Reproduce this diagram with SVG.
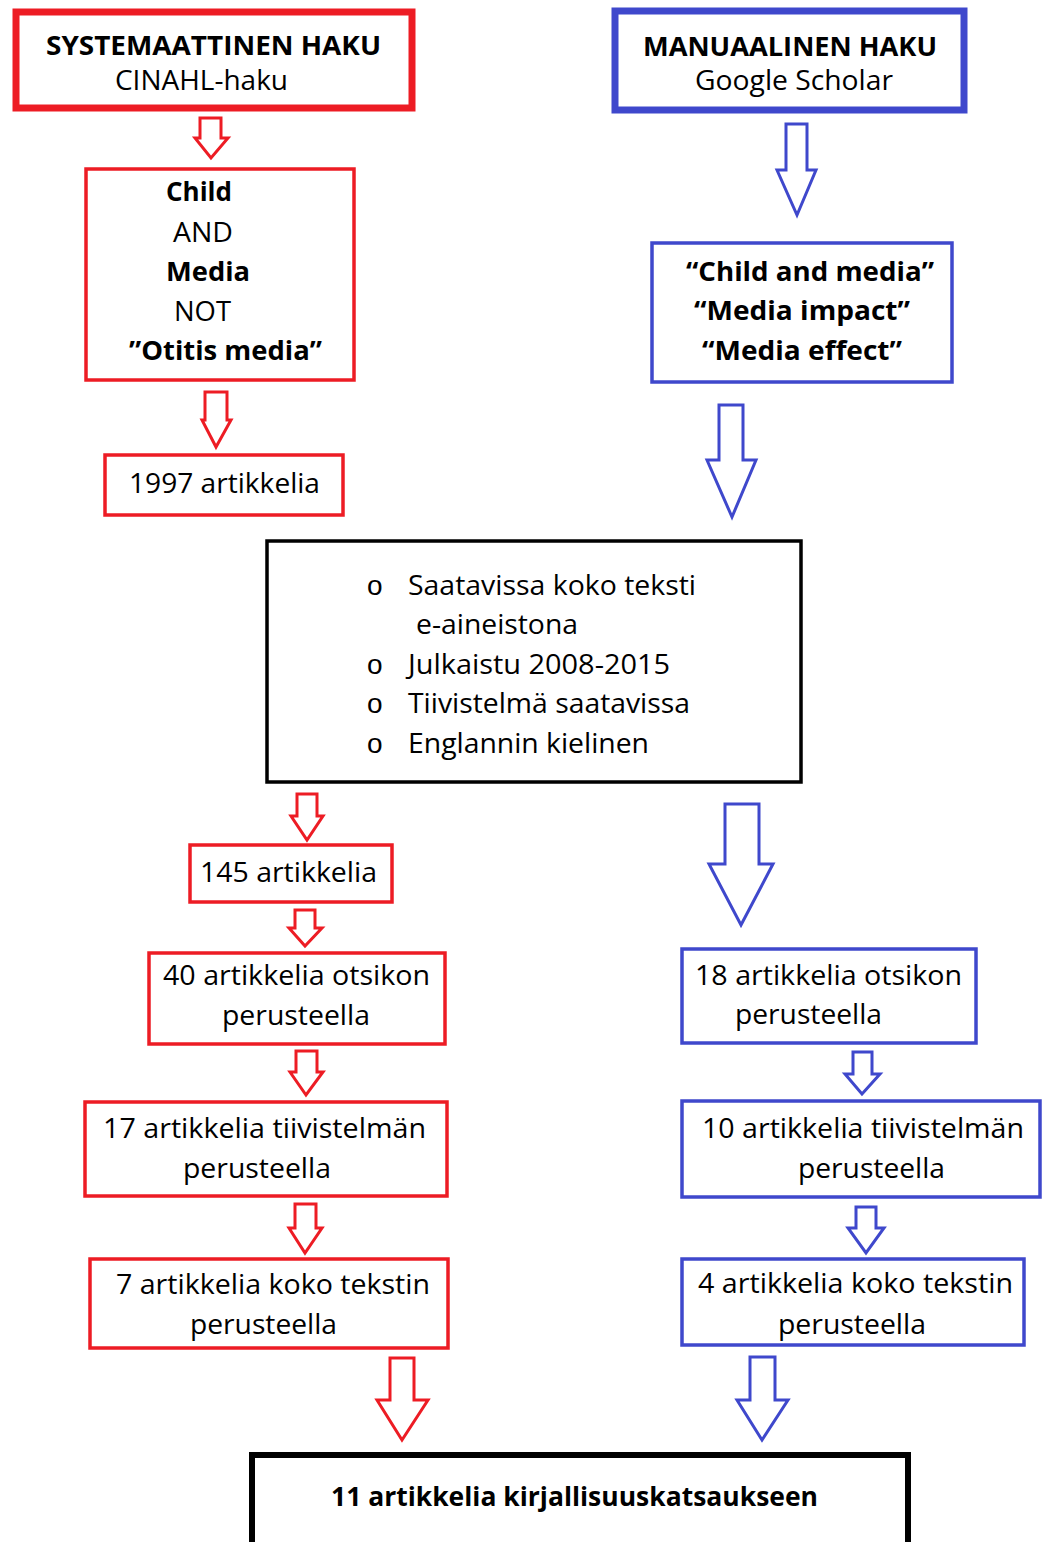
<svg xmlns="http://www.w3.org/2000/svg" width="1042" height="1542" viewBox="0 0 1042 1542">
<style>
.r{fill:#fff;stroke:#ed1c24;stroke-width:3.5}
.b{fill:#fff;stroke:#3f48cc;stroke-width:3.5}
.k{fill:#fff;stroke:#000;stroke-width:3.5}
.ra{fill:#fff;stroke:#ed1c24;stroke-width:3;stroke-linejoin:miter}
.ba{fill:#fff;stroke:#3f48cc;stroke-width:3;stroke-linejoin:miter}
text{font-family:"Open Sans","Liberation Sans",sans-serif;font-size:27px;fill:#000}
.bd{font-weight:bold}
text.bu{font-family:"Liberation Sans",sans-serif;font-size:28px}
</style>
<rect width="1042" height="1542" fill="#fff"/>
<g id="connectors">
<polygon class="ra" points="200,118 221,118 221,138 228,138 211,158 195,138 200,138"/>
<polygon class="ra" points="205,392 227,392 227,420 231,420 216,447 202,420 205,420"/>
<polygon class="ra" points="297,794 317,794 317,816 323,816 307,840 291,816 297,816"/>
<polygon class="ra" points="295,910 315,910 315,928 322,928 305,946 289,928 295,928"/>
<polygon class="ra" points="296,1051 317,1051 317,1072 323,1072 306,1095 290,1072 296,1072"/>
<polygon class="ra" points="295,1204 316,1204 316,1228 322,1228 305,1253 289,1228 295,1228"/>
<polygon class="ra" points="390,1358 414,1358 414,1400 428,1400 402,1440 377,1400 390,1400"/>
<polygon class="ba" points="786,124 807,124 807,170 816,170 797,215 777,170 786,170"/>
<polygon class="ba" points="719,405 743,405 743,460 756,460 732,517 707,460 719,460"/>
<polygon class="ba" points="725,804 759,804 759,864 773,864 741,925 709,864 725,864"/>
<polygon class="ba" points="853,1052 872,1052 872,1074 880,1074 862,1094 845,1074 853,1074"/>
<polygon class="ba" points="856,1207 876,1207 876,1228 884,1228 866,1253 848,1228 856,1228"/>
<polygon class="ba" points="750,1357 775,1357 775,1400 788,1400 762,1440 737,1400 750,1400"/>
</g>
<g id="systemaattinen">
<rect class="r" x="16" y="12" width="396" height="96" style="stroke-width:7"/>
<text class="bd" x="46" y="55" textLength="335" lengthAdjust="spacingAndGlyphs">SYSTEMAATTINEN HAKU</text>
<text x="115" y="90" textLength="173" lengthAdjust="spacingAndGlyphs">CINAHL-haku</text>
</g>
<g id="hakusanat-cinahl">
<rect class="r" x="86" y="169" width="268" height="211"/>
<text class="bd" x="166" y="201" textLength="66" lengthAdjust="spacingAndGlyphs">Child</text>
<text x="173" y="242" textLength="60" lengthAdjust="spacingAndGlyphs">AND</text>
<text class="bd" x="166" y="281" textLength="84" lengthAdjust="spacingAndGlyphs">Media</text>
<text x="174" y="321" textLength="57" lengthAdjust="spacingAndGlyphs">NOT</text>
<text class="bd" x="129" y="360" textLength="193" lengthAdjust="spacingAndGlyphs">”Otitis media”</text>
</g>
<g id="n1997">
<rect class="r" x="105" y="455" width="238" height="60"/>
<text x="129" y="493" textLength="191" lengthAdjust="spacingAndGlyphs">1997 artikkelia</text>
</g>
<g id="manuaalinen">
<rect class="b" x="615" y="11" width="349" height="99" style="stroke-width:7"/>
<text class="bd" x="643" y="56" textLength="294" lengthAdjust="spacingAndGlyphs">MANUAALINEN HAKU</text>
<text x="695" y="90" textLength="198" lengthAdjust="spacingAndGlyphs">Google Scholar</text>
</g>
<g id="hakusanat-scholar">
<rect class="b" x="652" y="243" width="300" height="139"/>
<text class="bd" x="686" y="281" textLength="248" lengthAdjust="spacingAndGlyphs">“Child and media”</text>
<text class="bd" x="694" y="320" textLength="216" lengthAdjust="spacingAndGlyphs">“Media impact”</text>
<text class="bd" x="702" y="360" textLength="200" lengthAdjust="spacingAndGlyphs">“Media effect”</text>
</g>
<g id="kriteerit">
<rect class="k" x="267" y="541" width="534" height="241"/>
<text class="bu" x="367" y="595">o</text>
<text x="408" y="595" textLength="288" lengthAdjust="spacingAndGlyphs">Saatavissa koko teksti</text>
<text x="416" y="634" textLength="162" lengthAdjust="spacingAndGlyphs">e-aineistona</text>
<text class="bu" x="367" y="674">o</text>
<text x="408" y="674" textLength="262" lengthAdjust="spacingAndGlyphs">Julkaistu 2008-2015</text>
<text class="bu" x="367" y="713">o</text>
<text x="408" y="713" textLength="282" lengthAdjust="spacingAndGlyphs">Tiivistelmä saatavissa</text>
<text class="bu" x="367" y="753">o</text>
<text x="408" y="753" textLength="241" lengthAdjust="spacingAndGlyphs">Englannin kielinen</text>
</g>
<g id="n145">
<rect class="r" x="190" y="845" width="202" height="57"/>
<text x="200" y="882" textLength="177" lengthAdjust="spacingAndGlyphs">145 artikkelia</text>
</g>
<g id="n40">
<rect class="r" x="149" y="953" width="296" height="91"/>
<text x="163" y="985" textLength="267" lengthAdjust="spacingAndGlyphs">40 artikkelia otsikon</text>
<text x="222" y="1025" textLength="148" lengthAdjust="spacingAndGlyphs">perusteella</text>
</g>
<g id="n17">
<rect class="r" x="85" y="1102" width="362" height="94"/>
<text x="103" y="1138" textLength="323" lengthAdjust="spacingAndGlyphs">17 artikkelia tiivistelmän</text>
<text x="183" y="1178" textLength="148" lengthAdjust="spacingAndGlyphs">perusteella</text>
</g>
<g id="n7">
<rect class="r" x="90" y="1259" width="358" height="89"/>
<text x="116" y="1294" textLength="314" lengthAdjust="spacingAndGlyphs">7 artikkelia koko tekstin</text>
<text x="190" y="1334" textLength="147" lengthAdjust="spacingAndGlyphs">perusteella</text>
</g>
<g id="n18">
<rect class="b" x="682" y="949" width="294" height="94"/>
<text x="695" y="985" textLength="267" lengthAdjust="spacingAndGlyphs">18 artikkelia otsikon</text>
<text x="735" y="1024" textLength="147" lengthAdjust="spacingAndGlyphs">perusteella</text>
</g>
<g id="n10">
<rect class="b" x="682" y="1101" width="358" height="96"/>
<text x="702" y="1138" textLength="322" lengthAdjust="spacingAndGlyphs">10 artikkelia tiivistelmän</text>
<text x="798" y="1178" textLength="147" lengthAdjust="spacingAndGlyphs">perusteella</text>
</g>
<g id="n4">
<rect class="b" x="682" y="1259" width="342" height="86"/>
<text x="698" y="1293" textLength="315" lengthAdjust="spacingAndGlyphs">4 artikkelia koko tekstin</text>
<text x="778" y="1334" textLength="148" lengthAdjust="spacingAndGlyphs">perusteella</text>
</g>
<g id="n11">
<rect class="k" x="252" y="1455" width="656" height="100" style="stroke-width:6"/>
<text class="bd" x="331" y="1506" textLength="487" lengthAdjust="spacingAndGlyphs">11 artikkelia kirjallisuuskatsaukseen</text>
</g>
</svg>
